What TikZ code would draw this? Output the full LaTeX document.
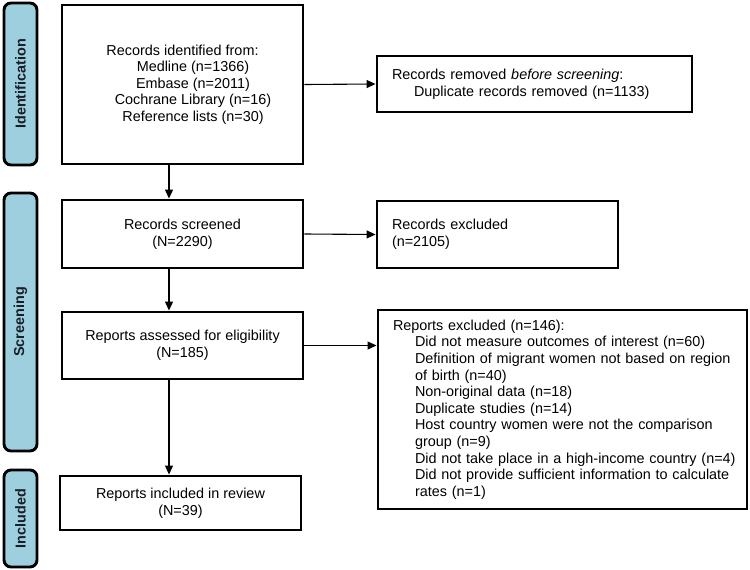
\documentclass[tikz,border=0pt]{standalone}
\usepackage{fontspec}
\setmainfont{Liberation Sans}
\usetikzlibrary{arrows.meta}
\definecolor{barblue}{RGB}{157,207,222}
\definecolor{bartext}{RGB}{25,30,40}
\tikzset{
  txt/.style={font=\fontsize{14.4pt}{16.6pt}\selectfont},
  box/.style={txt, draw=black, line width=2.9pt, fill=white, inner sep=0pt},
  cbox/.style={box, align=center},
  lbox/.style={box, align=left, inner xsep=15pt},
  phase/.style={draw=black, line width=2.9pt, fill=barblue, rounded corners=7pt,
    minimum width=33pt, inner sep=0pt},
  phtext/.style={font=\fontsize{14.4pt}{16.6pt}\selectfont\bfseries, text=bartext, rotate=90},
  arr/.style={draw=black, line width=1.1pt, -{Triangle[length=9pt,width=8pt]}}
}
\begin{document}
\begin{tikzpicture}[x=1pt,y=-1pt]
\useasboundingbox (0,0) rectangle (750,570);
% phase bars
\node[phase, minimum height=162pt] (pid) at (20.5,84) {};
\node[phtext] (tid) at (pid.center) {Identification};
\node[phase, minimum height=258pt] (psc) at (20.5,322) {};
\node[phtext] (tsc) at (psc.center) {Screening};
\node[phase, minimum height=97pt] (pin) at (20.5,518.5) {};
\node[phtext] (tin) at (pin.center) {Included};
% left column
\node[cbox, minimum width=241pt, minimum height=159pt] (b1) at (182.5,84.5)
  {Records identified from:\\
   \hspace*{21pt}Medline (n=1366)\\
   \hspace*{21pt}Embase (n=2011)\\
   \hspace*{21pt}Cochrane Library (n=16)\\
   \hspace*{21pt}Reference lists (n=30)};
\node[cbox, minimum width=241pt, minimum height=68pt] (b2) at (182.5,234)
  {Records screened\\(N=2290)};
\node[cbox, minimum width=241pt, minimum height=67pt] (b3) at (182.5,345.5)
  {Reports assessed for eligibility\\(N=185)};
\node[cbox, minimum width=241pt, minimum height=54pt] (b4) at (180.5,503)
  {Reports included in review\\(N=39)};
% right column
\node[lbox, text width=285pt, minimum height=56pt] (rem) at (534.5,84)
  {\mbox{Records removed \textit{before screening}:}\\
   \mbox{\hspace*{22pt}Duplicate records removed (n=1133)}};
\node[lbox, text width=211pt, minimum height=67pt] (exc) at (497.5,234.5)
  {Records excluded\\(n=2105)};
\node[lbox, text width=339pt, minimum height=199pt] (rex) at (562.5,409.5)
  {\mbox{Reports excluded (n=146):}\\
   \mbox{\hspace*{22pt}Did not measure outcomes of interest (n=60)}\\
   \mbox{\hspace*{22pt}Definition of migrant women not based on region}\\
   \mbox{\hspace*{22pt}of birth (n=40)}\\
   \mbox{\hspace*{22pt}Non-original data (n=18)}\\
   \mbox{\hspace*{22pt}Duplicate studies (n=14)}\\
   \mbox{\hspace*{22pt}Host country women were not the comparison}\\
   \mbox{\hspace*{22pt}group (n=9)}\\
   \mbox{\hspace*{22pt}Did not take place in a high-income country (n=4)}\\
   \mbox{\hspace*{22pt}Did not provide sufficient information to calculate}\\
   \mbox{\hspace*{22pt}rates (n=1)}};
% connectors
\coordinate (ax) at (169,0);
\draw[arr] (b1.south -| ax) -- (b2.north -| ax);
\draw[arr] (b2.south -| ax) -- (b3.north -| ax);
\draw[arr] (b3.south -| ax) -- (b4.north -| ax);
\draw[arr] (b1.east) -- (rem.west);
\draw[arr] (b2.east) -- (exc.west);
\draw[arr] (b3.east) -- (b3.east -| rex.west);
\end{tikzpicture}
\end{document}
